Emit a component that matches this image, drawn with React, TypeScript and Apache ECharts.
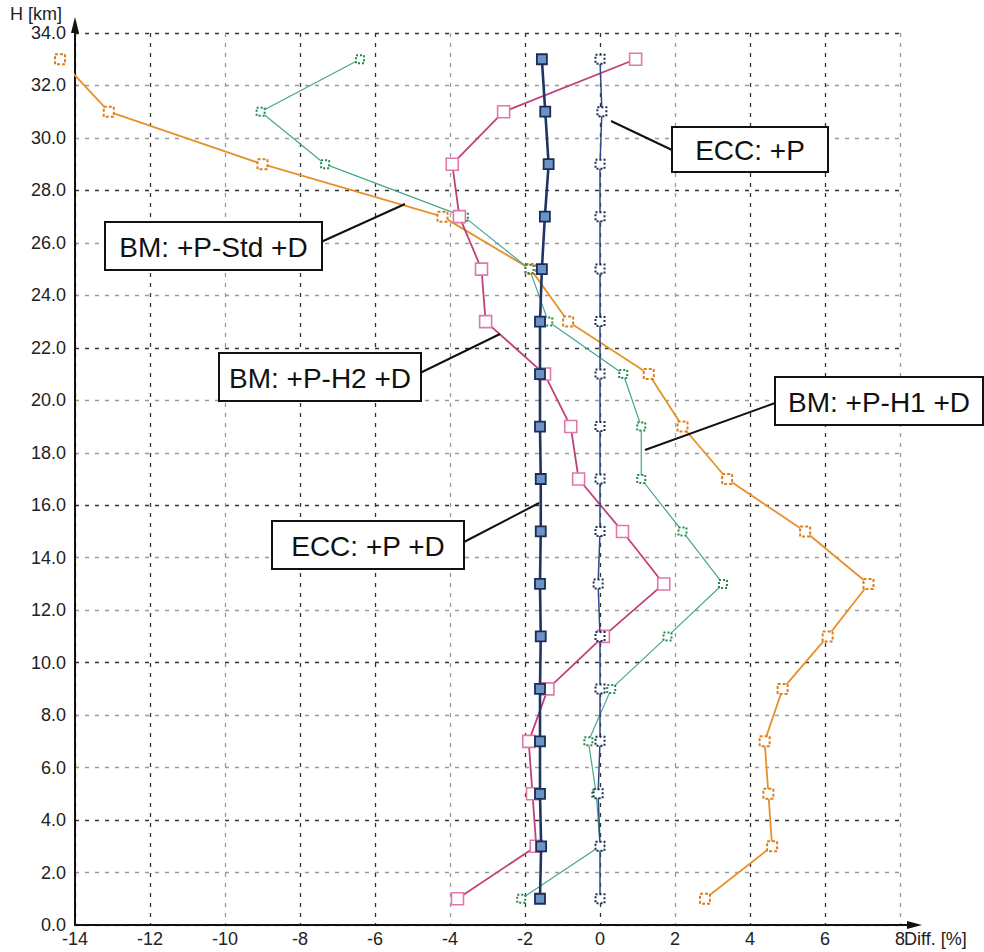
import React, { useEffect, useRef } from "react";
import * as echarts from "echarts";

// Altitude levels (km) at which every profile is sampled
const heights = [1, 3, 5, 7, 9, 11, 13, 15, 17, 19, 21, 23, 25, 27, 29, 31, 33];

// Relative differences (%) per altitude level, bottom to top
const eccP = [0.0, 0.0, -0.05, 0.0, 0.0, 0.0, -0.05, 0.0, 0.0, 0.0, 0.0, 0.0, 0.0, 0.0, 0.0, 0.05, 0.0];
const eccPD = [-1.6, -1.57, -1.6, -1.6, -1.6, -1.58, -1.6, -1.58, -1.58, -1.6, -1.6, -1.6, -1.55, -1.47, -1.37, -1.46, -1.55];
const bmH2 = [-3.8, -1.7, -1.8, -1.9, -1.39, 0.09, 1.7, 0.6, -0.57, -0.78, -1.48, -3.05, -3.16, -3.75, -3.94, -2.57, 0.95];
const bmH1 = [-2.1, 0.0, -0.1, -0.31, 0.3, 1.8, 3.28, 2.2, 1.1, 1.1, 0.62, -1.38, -1.88, -3.63, -7.33, -9.05, -6.4];
const bmStd = [2.8, 4.59, 4.49, 4.39, 4.87, 6.07, 7.16, 5.47, 3.39, 2.2, 1.3, -0.85, -1.85, -4.2, -9.0, -13.1, -14.4];

// Axis settings
const xMin = -14;
const xMax = 8;
const xStep = 2;
const yMin = 0;
const yMax = 34;
const yStep = 2;
const xTitle = "Diff. [%]";
const yTitle = "H [km]";

// Callout labels
const calloutEccP = "ECC: +P";
const calloutEccPD = "ECC: +P +D";
const calloutStd = "BM: +P-Std +D";
const calloutH2 = "BM: +P-H2 +D";
const calloutH1 = "BM: +P-H1 +D";

const FONT = "'Liberation Sans', Arial, Helvetica, sans-serif";

const pairs = (xs: number[]) => xs.map((x, i) => [x, heights[i]]);

// Boxed label with a leader line pointing at a curve
function callout(
  text: string,
  box: { x: number; y: number; w: number; h: number },
  from: [number, number],
  to: [number, number]
) {
  return [
    {
      type: "line",
      z: 100,
      shape: { x1: from[0], y1: from[1], x2: to[0], y2: to[1] },
      style: { stroke: "#111", lineWidth: 2 },
    },
    {
      type: "rect",
      z: 101,
      shape: { x: box.x, y: box.y, width: box.w, height: box.h },
      style: { fill: "#fff", stroke: "#111", lineWidth: 2 },
    },
    {
      type: "text",
      z: 102,
      x: box.x + box.w / 2,
      y: box.y + box.h / 2 + 1,
      style: {
        text,
        fill: "#111",
        font: `28px ${FONT}`,
        align: "center",
        verticalAlign: "middle",
      },
    },
  ];
}

export default function App() {
  const ref = useRef<HTMLDivElement>(null);

  useEffect(() => {
    if (!ref.current) return;
    const chart = echarts.init(ref.current, undefined, { renderer: "svg" });

    const gridLeft = 75;
    const gridTop = 33;
    const gridW = 825;
    const gridH = 892;
    const gridBottomY = gridTop + gridH;

    const dash = [4, 6];

    chart.setOption({
      animation: false,
      backgroundColor: "#fff",
      grid: { left: gridLeft, top: gridTop, width: gridW, height: gridH },
      xAxis: {
        type: "value",
        min: xMin,
        max: xMax,
        interval: xStep,
        axisLine: { show: true, onZero: false, lineStyle: { color: "#111", width: 2 } },
        axisTick: { show: false },
        axisLabel: {
          color: "#222",
          fontSize: 18,
          fontFamily: FONT,
          margin: 5,
        },
        splitLine: {
          show: true,
          lineStyle: { color: ["#333", "#333", "#999"], type: dash, width: 1.3 },
        },
      },
      yAxis: {
        type: "value",
        min: yMin,
        max: yMax,
        interval: yStep,
        axisLine: { show: true, onZero: false, lineStyle: { color: "#111", width: 2 } },
        axisTick: { show: false },
        axisLabel: {
          color: "#222",
          fontSize: 18,
          fontFamily: FONT,
          margin: 9,
          formatter: (v: number) => v.toFixed(1),
        },
        splitLine: {
          show: true,
          lineStyle: { color: ["#999", "#999", "#333"], type: dash, width: 1.3 },
        },
      },
      series: [
        {
          name: "BM: +P-Std +D",
          type: "line",
          data: pairs(bmStd),
          clip: false,
          symbol: "rect",
          symbolSize: 10,
          lineStyle: { color: "#e8912a", width: 1.8 },
          itemStyle: { color: "#fff", borderColor: "#d9801c", borderWidth: 2, borderType: [3, 2] },
          z: 2,
        },
        {
          name: "BM: +P-H1 +D",
          type: "line",
          data: pairs(bmH1),
          symbol: "rect",
          symbolSize: 8,
          lineStyle: { color: "#47a593", width: 1.2 },
          itemStyle: { color: "#fff", borderColor: "#1f8a48", borderWidth: 2, borderType: [2, 2] },
          z: 3,
        },
        {
          name: "BM: +P-H2 +D",
          type: "line",
          data: pairs(bmH2),
          symbol: "rect",
          symbolSize: 12,
          lineStyle: { color: "#c2407a", width: 1.8 },
          itemStyle: { color: "#fff", borderColor: "#e078ac", borderWidth: 1.6 },
          z: 4,
        },
        {
          name: "ECC: +P",
          type: "line",
          data: pairs(eccP),
          symbol: "rect",
          symbolSize: 9,
          lineStyle: { color: "#2c4a86", width: 1.5 },
          itemStyle: { color: "#fff", borderColor: "#1b2c55", borderWidth: 2, borderType: [2, 2] },
          z: 5,
        },
        {
          name: "ECC: +P +D",
          type: "line",
          data: pairs(eccPD),
          symbol: "rect",
          symbolSize: 10,
          lineStyle: { color: "#1d3566", width: 2.6 },
          itemStyle: { color: "#6b93c8", borderColor: "#1b2c55", borderWidth: 1.8 },
          z: 6,
        },
      ],
      graphic: [
        // x-axis extension and arrow head
        {
          type: "line",
          z: 50,
          shape: { x1: gridLeft + gridW, y1: gridBottomY, x2: gridLeft + gridW + 10, y2: gridBottomY },
          style: { stroke: "#111", lineWidth: 2 },
        },
        {
          type: "polygon",
          z: 50,
          shape: {
            points: [
              [gridLeft + gridW + 22, gridBottomY],
              [gridLeft + gridW + 7, gridBottomY - 4],
              [gridLeft + gridW + 7, gridBottomY + 4],
            ],
          },
          style: { fill: "#111" },
        },
        // y-axis arrow head
        {
          type: "polygon",
          z: 50,
          shape: {
            points: [
              [gridLeft, gridTop - 16],
              [gridLeft - 4, gridTop],
              [gridLeft + 4, gridTop],
            ],
          },
          style: { fill: "#111" },
        },
        {
          type: "text",
          z: 50,
          x: 10,
          y: 14,
          style: {
            text: yTitle,
            fill: "#222",
            font: `18px ${FONT}`,
            align: "left",
            verticalAlign: "middle",
          },
        },
        {
          type: "text",
          z: 50,
          x: 904,
          y: 939,
          style: {
            text: xTitle,
            fill: "#222",
            font: `18px ${FONT}`,
            align: "left",
            verticalAlign: "middle",
          },
        },
        ...callout(calloutEccP, { x: 672, y: 127, w: 156, h: 45 }, [672, 150], [611, 121]),
        ...callout(calloutStd, { x: 105, y: 222, w: 217, h: 48 }, [321, 242], [405, 204]),
        ...callout(calloutH2, { x: 219, y: 353, w: 202, h: 48 }, [420, 373], [500, 334]),
        ...callout(calloutH1, { x: 775, y: 377, w: 208, h: 48 }, [775, 403], [645, 450]),
        ...callout(calloutEccPD, { x: 272, y: 521, w: 192, h: 48 }, [464, 542], [539, 503]),
      ],
    });

    return () => chart.dispose();
  }, []);

  return (
    <div
      ref={ref}
      style={{ position: "fixed", left: 0, top: 0, width: 984, height: 952 }}
    />
  );
}
